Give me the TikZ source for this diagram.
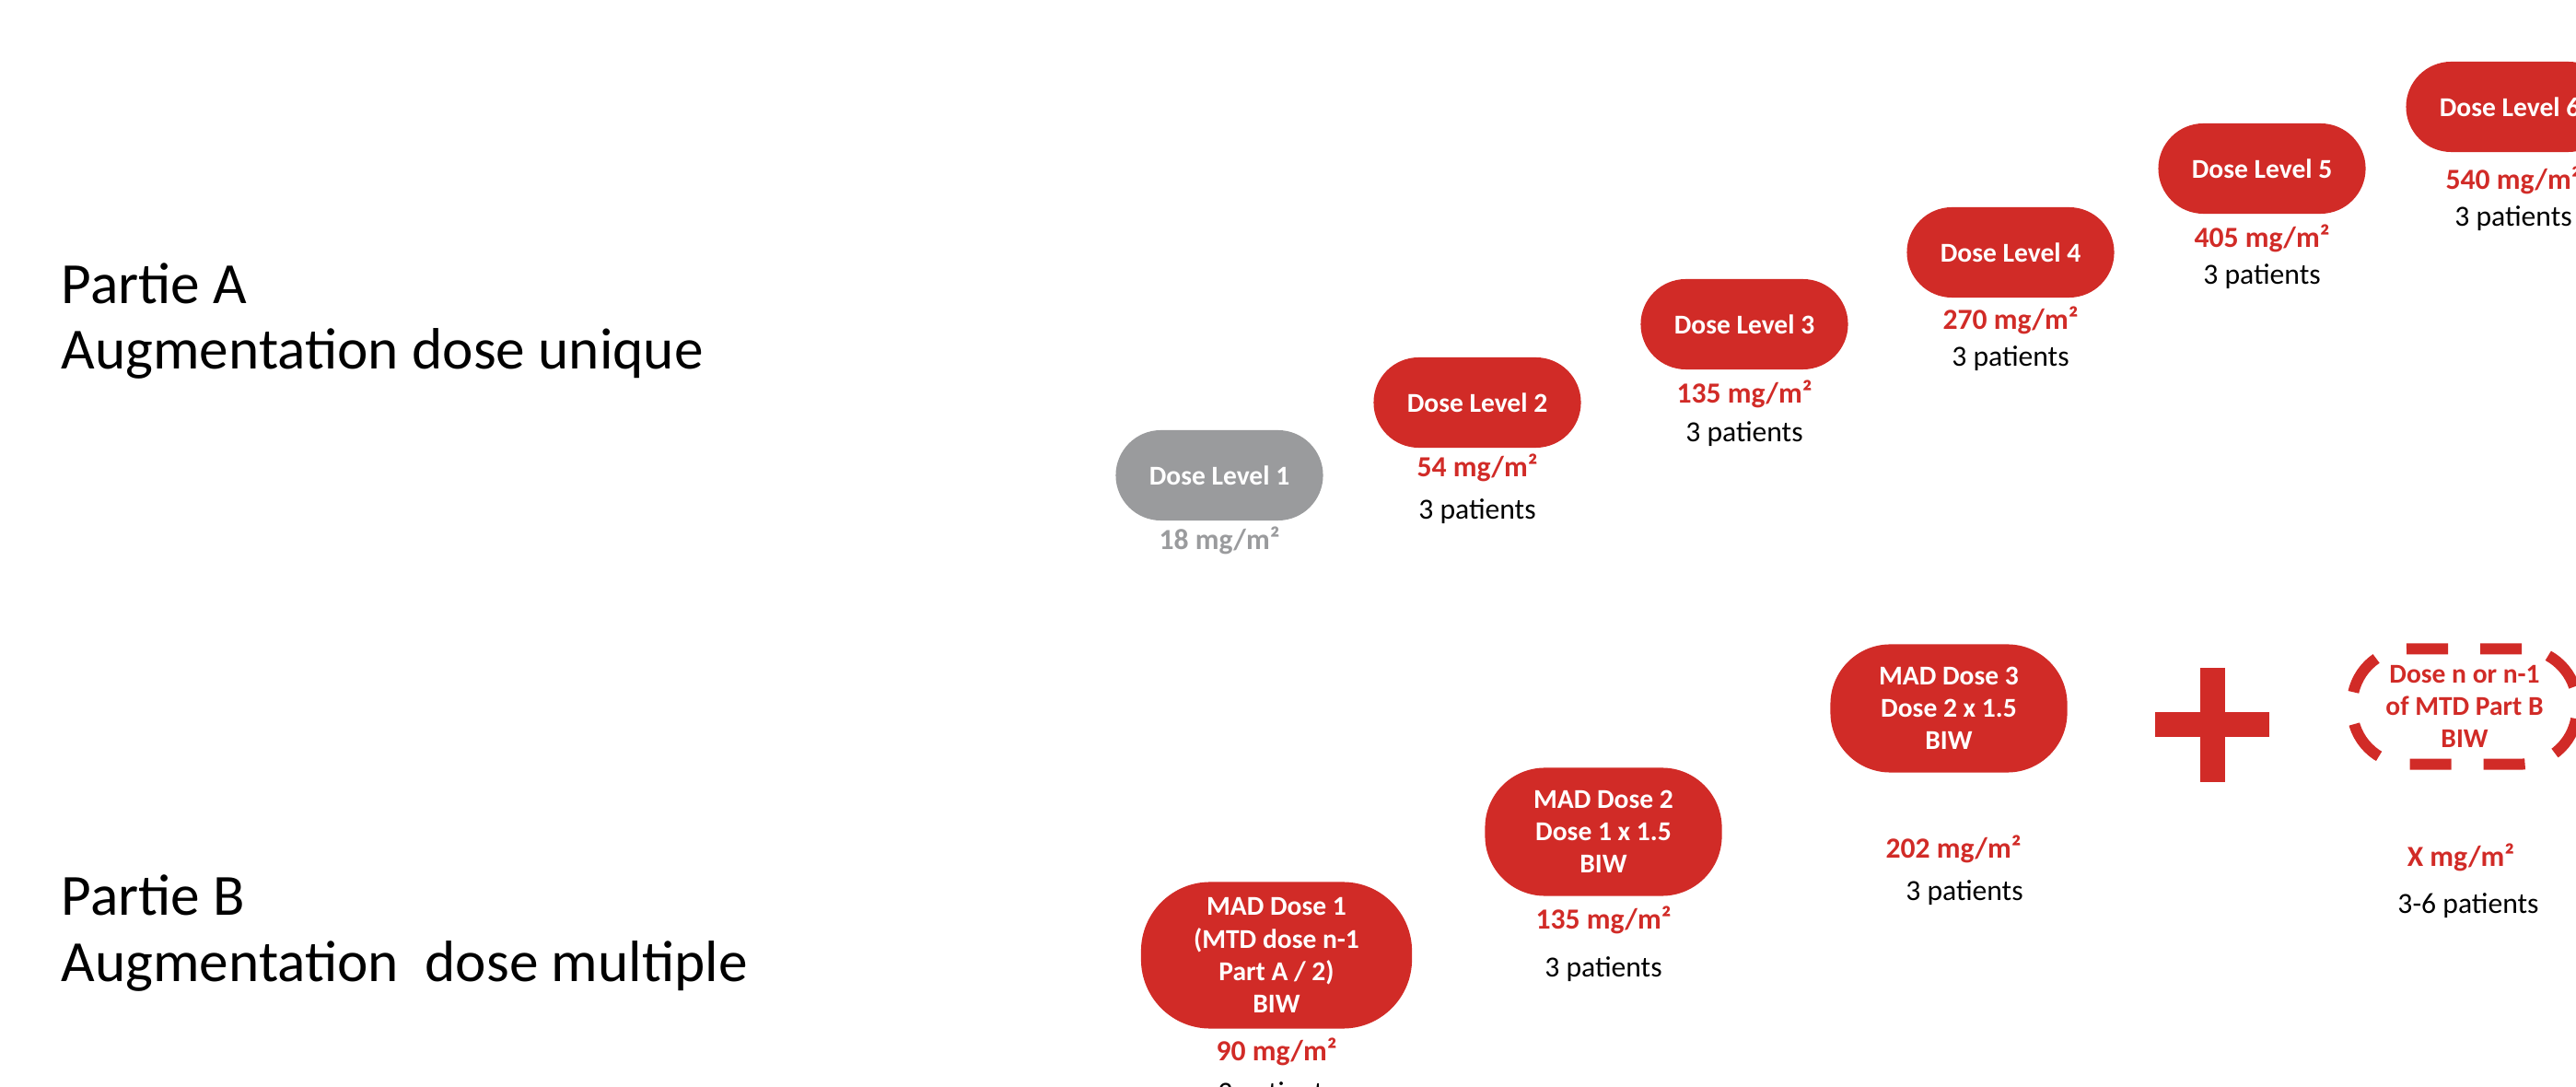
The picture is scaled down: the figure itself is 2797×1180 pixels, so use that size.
\documentclass[tikz,border=0pt]{standalone}
\usepackage{fontspec}
\setmainfont{Carlito}
\definecolor{myred}{HTML}{D12B27}
\definecolor{mygray}{HTML}{9A9B9D}
\begin{document}
\begin{tikzpicture}[x=0.01cm,y=-0.01cm,
  pill/.style={fill=myred, text=white, font=\bfseries\fontsize{8.4}{10}\selectfont, align=center, inner sep=0pt,
    minimum width=2.25cm, minimum height=0.98cm, rounded corners=0.49cm},
  madpill/.style={pill, minimum width=2.57cm, minimum height=1.39cm, rounded corners=0.65cm},
  dashpill/.style={draw=myred, line width=0.12cm, dash pattern=on 0.45cm off 0.35cm, text=myred,
    font=\bfseries\fontsize{8.4}{10}\selectfont, align=center, inner sep=0pt,
    minimum width=2.44cm, minimum height=1.25cm, rounded corners=0.6cm},
  mg/.style={text=myred, font=\bfseries\fontsize{9}{11}\selectfont, inner sep=0pt},
  pat/.style={text=black, font=\fontsize{9}{11}\selectfont, inner sep=0pt},
  lefttxt/.style={anchor=base west, inner sep=0pt, font=\fontsize{18}{20}\selectfont}]
\useasboundingbox (0,0) rectangle (2797,1180);
\clip (0,0) rectangle (2797,1180);

% left titles
\node[lefttxt] (pa1) at (66,330) {Partie A};
\node[lefttxt] (pa2) at (66,401) {Augmentation dose unique};
\node[lefttxt] (pb1) at (66,994) {Partie B};
\node[lefttxt] (pb2) at (66,1065) {Augmentation\ \ dose multiple};

% Part A
\node[pill, fill=mygray] (dl1) at (1324,516) {Dose Level 1};
\node[pill] (dl2) at (1604,437) {Dose Level 2};
\node[pill] (dl3) at (1894,352) {Dose Level 3};
\node[pill] (dl4) at (2183,274) {Dose Level 4};
\node[pill] (dl5) at (2456,183) {Dose Level 5};
\node[pill] (dl6) at (2725,116) {Dose Level 6};

\node[mg, text=mygray] (dl1mg) at (1324,587) {18 mg/m²};
\node[mg] (dl2mg) at (1604,508) {54 mg/m²};
\node[pat] (dl2p) at (1604,555) {3 patients};
\node[mg] (dl3mg) at (1894,428) {135 mg/m²};
\node[pat] (dl3p) at (1894,471) {3 patients};
\node[mg] (dl4mg) at (2183,348) {270 mg/m²};
\node[pat] (dl4p) at (2183,389) {3 patients};
\node[mg] (dl5mg) at (2456,259) {405 mg/m²};
\node[pat] (dl5p) at (2456,300) {3 patients};
\node[mg] (dl6mg) at (2729,196) {540 mg/m²};
\node[pat] (dl6p) at (2729,237) {3 patients};

% Part B
\node[madpill, minimum width=2.94cm, minimum height=1.59cm, rounded corners=0.75cm] (mad1) at (1386,1037)
  {MAD Dose 1\\(MTD dose n-1\\Part A / 2)\\BIW};
\node[madpill] (mad2) at (1741,903) {MAD Dose 2\\Dose 1 x 1.5\\BIW};
\node[madpill] (mad3) at (2116,769) {MAD Dose 3\\Dose 2 x 1.5\\BIW};
\node[dashpill] (madn) at (2676,767) {Dose n or n-1\\of MTD Part B\\BIW};

\node[mg] (mad1mg) at (1386,1142) {90 mg/m²};
\node[pat] (mad1p) at (1386,1188) {3 patients};
\node[mg] (mad2mg) at (1741,999) {135 mg/m²};
\node[pat] (mad2p) at (1741,1052) {3 patients};
\node[mg] (mad3mg) at (2121,922) {202 mg/m²};
\node[pat] (mad3p) at (2133,969) {3 patients};
\node[mg] (madnmg) at (2672,931) {X mg/m²};
\node[pat] (madnp) at (2680,983) {3-6 patients};

% plus sign
\fill[myred] (2340,773.5) rectangle (2464,800.5);
\fill[myred] (2388.5,725) rectangle (2415.5,849);
\end{tikzpicture}
\end{document}
